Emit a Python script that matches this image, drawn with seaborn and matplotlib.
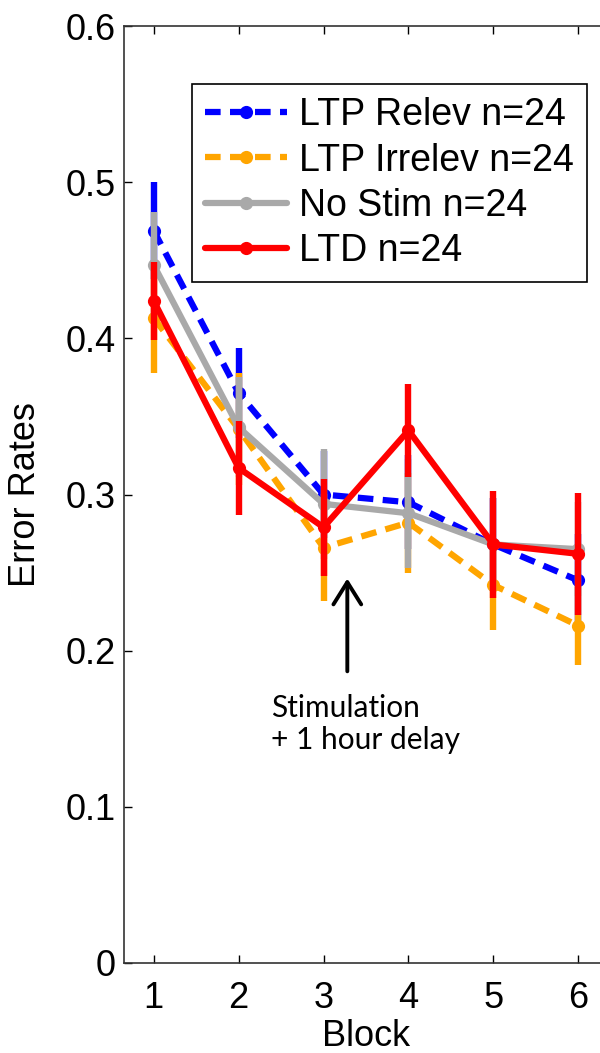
import seaborn as sns
import matplotlib.pyplot as plt
import pandas as pd

blocks = [1, 2, 3, 4, 5, 6]

# Error rates per block and group (mean, SEM)
ltp_relev = [0.469, 0.365, 0.300, 0.295, 0.268, 0.245]
ltp_relev_err = [0.031, 0.029, 0.028, 0.030, 0.030, 0.030]
ltp_irrelev = [0.413, 0.342, 0.266, 0.282, 0.242, 0.216]
ltp_irrelev_err = [0.035, 0.036, 0.034, 0.032, 0.029, 0.025]
no_stim = [0.447, 0.343, 0.294, 0.288, 0.268, 0.265]
no_stim_err = [0.034, 0.032, 0.035, 0.035, 0.030, 0.030]
ltd = [0.424, 0.317, 0.279, 0.341, 0.268, 0.262]
ltd_err = [0.025, 0.030, 0.031, 0.030, 0.034, 0.039]

labels = ["LTP Relev n=24", "LTP Irrelev n=24", "No Stim n=24", "LTD n=24"]
yticks = [0, 0.1, 0.2, 0.3, 0.4, 0.5, 0.6]
ytick_labels = ["0", "0.1", "0.2", "0.3", "0.4", "0.5", "0.6"]

sns.set_style("ticks")
plt.rcParams["font.family"] = ["Liberation Sans", "DejaVu Sans"]
plt.rcParams["text.color"] = "black"
plt.rcParams["axes.labelcolor"] = "black"
plt.rcParams["xtick.color"] = "black"
plt.rcParams["ytick.color"] = "black"

fig = plt.figure(figsize=(6, 10.53), dpi=100)
ax = fig.add_axes([124 / 600, 1 - 963 / 1053, 484 / 600, 937 / 1053])

series = [
    (ltp_relev, ltp_relev_err, "#0000FF", (0, (2.5, 1.5))),
    (ltp_irrelev, ltp_irrelev_err, "#FFA500", (0, (2.5, 1.5))),
    (no_stim, no_stim_err, "#A9A9A9", "-"),
    (ltd, ltd_err, "#FF0000", "-"),
]

for i, (vals, errs, col, ls) in enumerate(series):
    df = pd.DataFrame({"Block": blocks, "Error Rates": vals})
    ax.errorbar(blocks, vals, yerr=errs, fmt="none", ecolor=col,
                elinewidth=4.6, capsize=0, zorder=2 + 2 * i)
    sns.lineplot(x="Block", y="Error Rates", data=df, ax=ax, color=col,
                 linestyle=ls, linewidth=4.5, marker="o", markersize=9.5,
                 markeredgewidth=0, label=labels[i], zorder=3 + 2 * i)

# arrow + note for stimulation time point
ax.annotate("", xy=(3.28, 0.248), xytext=(3.28, 0.185),
            arrowprops=dict(arrowstyle="->,head_length=0.8,head_width=0.5",
                            color="black", lw=2.8, mutation_scale=20))
ax.text(2.38, 0.153, "Stimulation\n+ 1 hour delay", ha="left", va="center",
        fontsize=21.5, family=["Lato", "DejaVu Sans"])

ax.set_xlim(0.65, 6.35)
ax.set_ylim(0, 0.6)
ax.set_xticks(blocks)
ax.set_yticks(yticks)
ax.set_yticklabels(ytick_labels)
ax.tick_params(direction="in", length=6, width=1, labelsize=26,
               top=True, right=True)
ax.tick_params(axis="x", pad=13)
ax.tick_params(axis="y", pad=6)
for sp in ax.spines.values():
    sp.set_visible(True)
    sp.set_linewidth(1.2)
    sp.set_color("#333333")

ax.set_xlabel("Block", fontsize=26, labelpad=2)
ax.set_ylabel("Error Rates", fontsize=26, labelpad=16)

leg = ax.legend(loc="upper left", bbox_to_anchor=(0.14, 0.938),
                borderaxespad=0, fontsize=27, frameon=True, fancybox=False,
                edgecolor="black", framealpha=1, handlelength=2.2,
                handletextpad=0.3, labelspacing=0.25, borderpad=0.35,
                numpoints=1)
leg.get_frame().set_linewidth(1.2)

fig.savefig("out.png", dpi=100)
